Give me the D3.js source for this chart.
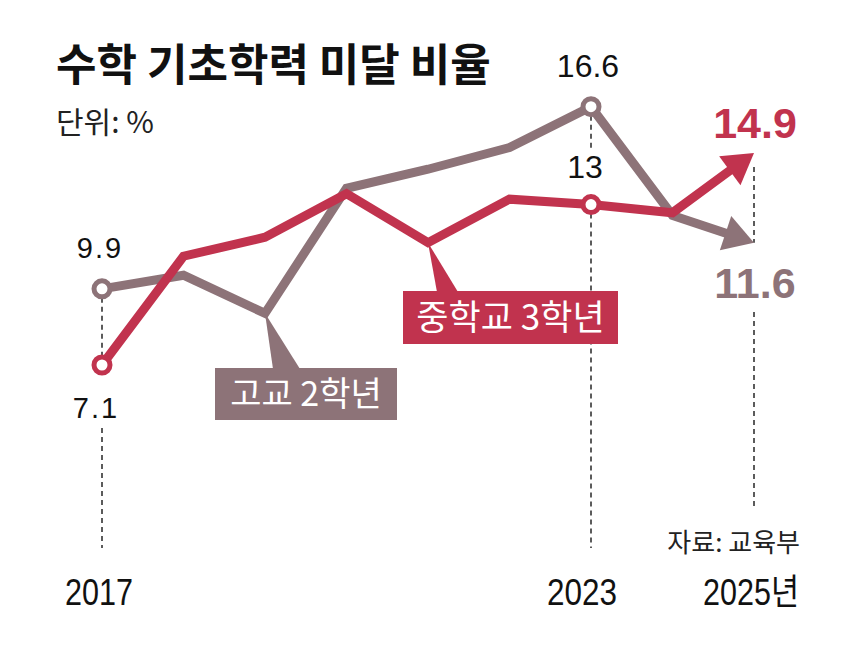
<!DOCTYPE html>
<html>
<head>
<meta charset="utf-8">
<script src="https://cdn.jsdelivr.net/npm/d3@7"></script>
<style>
  html, body { margin: 0; padding: 0; background: #fff; }
  svg { display: block; }
</style>
</head>
<body>
<svg id="chart" width="860" height="646"></svg>
<script>
// ---- data ----
const years = [2017, 2018, 2019, 2020, 2021, 2022, 2023, 2024, 2025];
const middle3 = [7.1, 11.1, 11.8, 13.4, 11.6, 13.2, 13.0, 12.7, 14.9];
const high2 = [9.9, 10.4, 9.0, 13.6, 14.3, 15.1, 16.6, 12.6, 11.6];
const seriesNames = ["중학교 3학년", "고교 2학년"];
const tickYears = [2017, 2023, 2025];
const tickLabels = ["2017", "2023", "2025년"];
const title = "수학 기초학력 미달 비율";
const unitText = "단위: %";
const sourceText = "자료: 교육부";

const RED = "#c1334e";
const GRAY = "#8d7378";
const KR = "'Noto Sans CJK KR', 'Noto Sans', sans-serif";
const NUM = "'Liberation Sans', Arial, sans-serif";

const svg = d3.select("#chart");
const x = d3.scaleLinear().domain([2017, 2025]).range([102, 754]);
const y = d3.scaleLinear().domain([7.1, 16.6]).range([365, 106.7]);

// title
svg.append("text").attr("x", 56).attr("y", 81)
  .attr("font-family", KR).attr("font-weight", 700).attr("font-size", 44)
  .attr("fill", "#111").text(title);
svg.append("text").attr("x", 56).attr("y", 133)
  .attr("font-family", KR).attr("font-size", 30)
  .attr("fill", "#222").text(unitText);

// dashed guides
const dash = svg.append("g").attr("stroke", "#333").attr("stroke-width", 1.6)
  .attr("stroke-dasharray", "5,4");
const guide = (yr, y1, y2) => dash.append("line")
  .attr("x1", x(yr)).attr("x2", x(yr)).attr("y1", y1).attr("y2", y2);
guide(2017, y(9.9), y(7.1));
guide(2017, 428, 548);
guide(2023, y(16.6), 148);
guide(2023, y(13), 548);
guide(2025, y(14.9) + 14, y(11.6));
guide(2025, 312, 508);

// callout boxes
function callout(label, color, px, py, bx, by, bw, bh, t1, t2, fs) {
  const g = svg.append("g");
  g.append("path")
    .attr("d", `M${px},${py} L${t1},${by + 1} L${t2},${by + 1} Z`)
    .attr("fill", color);
  g.append("rect").attr("x", bx).attr("y", by).attr("width", bw).attr("height", bh)
    .attr("fill", color);
  g.append("text").attr("x", bx + bw / 2).attr("y", by + bh / 2 + 12)
    .attr("text-anchor", "middle").attr("font-family", KR).attr("font-size", fs)
    .attr("fill", "#fff").text(label);
}
callout(seriesNames[1], GRAY, x(2019), y(high2[2]), 215, 368, 182, 52, x(2019) + 8, x(2019) + 35, 34);
callout(seriesNames[0], RED, x(2021), y(middle3[4]), 403, 291, 215, 53, x(2021) + 9, x(2021) + 30, 35);

// lines with arrowheads
function drawSeries(vals, color) {
  const n = vals.length;
  const x1 = x(years[n - 2]), y1 = y(vals[n - 2]);
  const x2 = x(years[n - 1]), y2 = y(vals[n - 1]);
  const ang = Math.atan2(y2 - y1, x2 - x1);
  const L = 30, W = 18;
  const bx = x2 - L * Math.cos(ang), by = y2 - L * Math.sin(ang);
  const pts = vals.map((v, i) => [x(years[i]), y(v)]);
  pts[n - 1] = [bx + 2 * Math.cos(ang), by + 2 * Math.sin(ang)];
  svg.append("path")
    .attr("d", d3.line()(pts))
    .attr("fill", "none").attr("stroke", color).attr("stroke-width", 9)
    .attr("stroke-linejoin", "miter");
  const px = -Math.sin(ang), py = Math.cos(ang);
  svg.append("path")
    .attr("d", `M${x2},${y2} L${bx + W * px},${by + W * py} L${bx - W * px},${by - W * py} Z`)
    .attr("fill", color);
}
drawSeries(high2, GRAY);
drawSeries(middle3, RED);

// circles
const circ = (yr, v, color) => svg.append("circle")
  .attr("cx", x(yr)).attr("cy", y(v)).attr("r", 8)
  .attr("fill", "#fff").attr("stroke", color).attr("stroke-width", 5);
circ(2017, high2[0], GRAY);
circ(2017, middle3[0], RED);
circ(2023, high2[6], GRAY);
circ(2023, middle3[6], RED);

// value labels
const lab = (t, xx, yy, size, weight, color, ls) => svg.append("text")
  .attr("x", xx).attr("y", yy).attr("text-anchor", "middle")
  .attr("font-family", NUM).attr("font-size", size).attr("font-weight", weight)
  .attr("letter-spacing", ls || 0).attr("fill", color).text(t);
lab(String(high2[0]), x(2017) - 2, 258, 29, 400, "#111", 2);
lab(String(middle3[0]), x(2017) - 6, 418, 29, 400, "#111", 2);
lab(String(high2[6]), x(2023) - 3, 77, 32, 400, "#111", 0);
lab(String(middle3[6]), x(2023) - 6, 178, 32, 400, "#111", 0);
lab(middle3[8].toFixed(1), x(2025) + 1, 138, 43, 700, RED, 0);
lab(high2[8].toFixed(1), x(2025) + 1, 298, 43, 700, GRAY, 0);

// x tick labels (condensed look)
const tickWidths = [68, 70, 96];
const tickShift = [-3, -9, 0];
tickYears.forEach((yr, i) => {
  const w = tickWidths[i];
  const left = i === 2 ? 799 - w : x(yr) + tickShift[i] - w / 2;
  svg.append("text")
    .attr("x", left).attr("y", 605)
    .attr("textLength", w).attr("lengthAdjust", "spacingAndGlyphs")
    .attr("font-family", i === 2 ? "'Liberation Sans', 'Noto Sans CJK KR', sans-serif" : NUM)
    .attr("font-size", 36)
    .attr("fill", "#111").text(tickLabels[i]);
});

// source
svg.append("text").attr("x", 800).attr("y", 552).attr("text-anchor", "end")
  .attr("font-family", KR).attr("font-size", 26).attr("fill", "#222").text(sourceText);
</script>
</body>
</html>
